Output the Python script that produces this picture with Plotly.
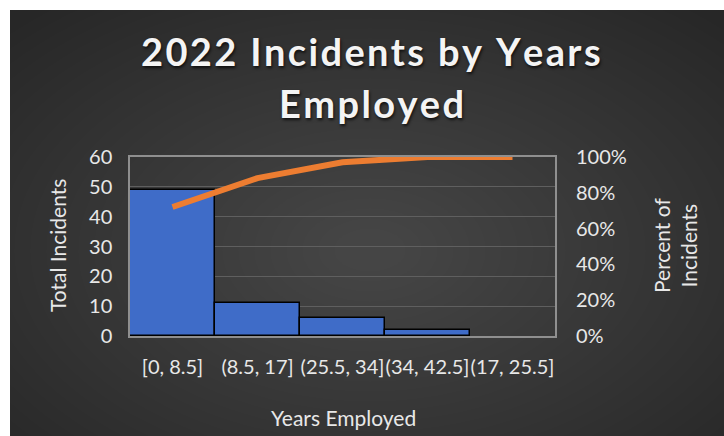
import plotly.graph_objects as go

# ---- data ----
categories = ["[0, 8.5]", "(8.5, 17]", "(25.5, 34]", "(34, 42.5]", "(17, 25.5]"]
incidents = [49, 11, 6, 2, 0]
cumulative_pct = [0.7206, 0.8824, 0.9706, 1.0, 1.0]
left_ticks = [0, 10, 20, 30, 40, 50, 60]
right_ticks = [0, 0.2, 0.4, 0.6, 0.8, 1.0]
title_lines = ["2022 Incidents by Years", "Employed"]

W, H = 724, 436
ML, MR, MT, MB = 130, 169, 157, 100
PW, PH = W - ML - MR, H - MT - MB


def px(x):
    return (x - ML) / PW


def py(y):
    return (H - MB - y) / PH


def spaced(s):
    return "\u200a".join(s)


FONT = "Lato"
TXT = "#e8e8e8"

fig = go.Figure()
fig.add_trace(go.Bar(
    x=categories, y=incidents, yaxis="y",
    marker=dict(color="#3f6cc8",
                line=dict(color="#000000", width=[1.5 if v > 0 else 0 for v in incidents])),
    showlegend=False,
))
fig.add_trace(go.Scatter(
    x=categories, y=cumulative_pct, yaxis="y2", mode="lines",
    line=dict(color="#ED7D31", width=6), showlegend=False,
))

shapes = []
shapes.append(dict(type="rect", xref="paper", yref="paper", layer="below",
                   x0=px(10), x1=px(W), y0=py(H), y1=py(10),
                   fillcolor="#272727", line=dict(width=0)))
N = 30
cx, cy = 370, 250
for i in range(N):
    f = 1 - i / N
    rx, ry = 480 * f + 20, 300 * f + 12
    shapes.append(dict(type="circle", xref="paper", yref="paper", layer="below",
                       x0=px(cx - rx), x1=px(cx + rx), y0=py(cy + ry), y1=py(cy - ry),
                       fillcolor="rgba(255,255,255,0.0075)", line=dict(width=0)))
shapes.append(dict(type="rect", xref="paper", yref="paper", layer="below",
                   x0=px(0), x1=px(10), y0=py(H), y1=py(0),
                   fillcolor="#ffffff", line=dict(width=0)))
shapes.append(dict(type="rect", xref="paper", yref="paper", layer="below",
                   x0=px(0), x1=px(W), y0=py(10), y1=py(0),
                   fillcolor="#ffffff", line=dict(width=0)))

title_font = dict(family=FONT, size=38, color="#f4f4f4", shadow="1px 2px 3px rgba(0,0,0,0.7)")
annotations = [
    dict(text="<b>" + spaced(title_lines[0]) + "</b>", x=px(371), y=py(51), xref="paper", yref="paper",
         showarrow=False, xanchor="center", yanchor="middle", font=title_font),
    dict(text="<b>" + spaced(title_lines[1]) + "</b>", x=px(371), y=py(103), xref="paper", yref="paper",
         showarrow=False, xanchor="center", yanchor="middle", font=title_font),
    dict(text="Total Incidents", x=px(57), y=py(246), xref="paper", yref="paper",
         showarrow=False, textangle=-90, xanchor="center", yanchor="middle",
         font=dict(family=FONT, size=21, color=TXT)),
    dict(text="Percent of<br>Incidents", x=px(675), y=py(246), xref="paper", yref="paper",
         showarrow=False, textangle=-90, xanchor="center", yanchor="middle",
         font=dict(family=FONT, size=21, color=TXT)),
    dict(text="Years Employed", x=px(343), y=py(417), xref="paper", yref="paper",
         showarrow=False, xanchor="center", yanchor="middle",
         font=dict(family=FONT, size=21, color=TXT)),
]

fig.update_layout(
    width=W, height=H,
    margin=dict(l=ML, r=MR, t=MT, b=MB, pad=0),
    paper_bgcolor="#ffffff",
    plot_bgcolor="rgba(0,0,0,0)",
    bargap=0,
    shapes=shapes,
    annotations=annotations,
    font=dict(family=FONT, color=TXT),
    xaxis=dict(
        type="category", tickangle=0, showgrid=False,
        showline=True, mirror=True, linecolor="#8f8f8f", linewidth=1.5,
        ticks="outside", ticklen=12, tickcolor="rgba(0,0,0,0)",
        tickfont=dict(family=FONT, size=20, color=TXT),
    ),
    yaxis=dict(
        range=[0, 60], tickvals=left_ticks, showgrid=True, gridcolor="#5f5f5f", gridwidth=1,
        showline=True, mirror=True, linecolor="#8f8f8f", linewidth=1.5, zeroline=False,
        ticks="outside", ticklen=12, tickcolor="rgba(0,0,0,0)",
        tickfont=dict(family=FONT, size=20, color=TXT),
    ),
    yaxis2=dict(
        range=[0, 1], tickvals=right_ticks, tickformat=".0%", overlaying="y", side="right",
        showgrid=False, zeroline=False, showline=False,
        ticks="outside", ticklen=16, tickcolor="rgba(0,0,0,0)",
        tickfont=dict(family=FONT, size=20, color=TXT),
    ),
)

fig.write_html("out.html", config={"displayModeBar": False},
               post_script="document.body.style.margin='0';document.body.style.overflow='hidden';")
